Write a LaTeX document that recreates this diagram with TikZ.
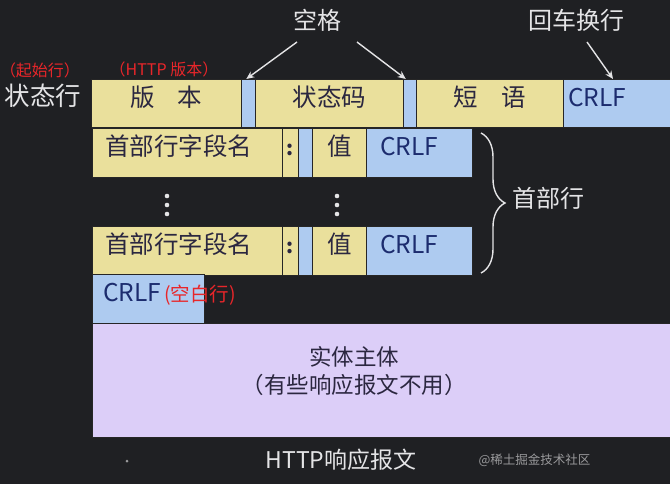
\documentclass[tikz,border=0pt]{standalone}
\usepackage{fontspec}
\setmainfont{Noto Sans CJK SC}
\usetikzlibrary{arrows.meta,decorations.pathreplacing}

\definecolor{bgdark}{HTML}{1F2023}
\definecolor{fieldyellow}{HTML}{EAE09C}
\definecolor{gapblue}{HTML}{AECBF0}
\definecolor{bodypurple}{HTML}{DCCEF8}
\definecolor{inktext}{HTML}{2B2740}
\definecolor{crlfblue}{HTML}{1C2C6E}
\definecolor{notered}{HTML}{E8262A}
\definecolor{labelwhite}{HTML}{E4E4E6}
\definecolor{markgray}{HTML}{9A9A9C}

\tikzset{
	cell/.style={draw=black!85, line width=0.6pt, anchor=north west, inner sep=0pt,
		minimum height=48, text height=21pt, text depth=15pt,
		text=inktext, font=\fontsize{24.5}{28}\selectfont},
	field/.style={cell, fill=fieldyellow},
	gap/.style={cell, fill=gapblue},
	crlf/.style={cell, fill=gapblue, text=crlfblue, align=left, inner xsep=#1},
	labeltext/.style={text=labelwhite, font=\fontsize{24}{28}\selectfont},
	redtext/.style={text=notered, font=\fontsize{16}{18}\selectfont},
	pointer/.style={labelwhite, line width=1.4pt, -{Stealth[length=8pt,width=7pt]}},
}

\begin{document}
\begin{tikzpicture}[x=1pt,y=-1pt]
	% Page size and background
	\useasboundingbox (0,0) rectangle (670,484);
	\fill[bgdark] (0,0) rectangle (670,484);
	% Status line
	\node[field, minimum width=150] (ver) at (91,79) {版\hspace{0.95em}本};
	\node[gap, minimum width=14] (sp1) at (241,79) {};
	\node[field, minimum width=148] (code) at (255,79) {状态码};
	\node[gap, minimum width=13] (sp2) at (403,79) {};
	\node[field, minimum width=147] (phrase) at (416,79) {短\hspace{0.95em}语};
	\node[crlf=5pt, minimum width=120, text width=110] (crlf1) at (563,79) {CRLF};
	% Header lines
	\foreach \r/\y in {1/128, 2/226} {
		\node[field, minimum width=190, minimum height=49, align=left, inner xsep=13pt, text width=164] (name\r) at (92,\y) {首部行字段名};
		\node[field, minimum width=16, minimum height=49, font=\bfseries\fontsize{20}{24}\selectfont] (colon\r) at (282,\y) {:};
		\node[gap, minimum width=14, minimum height=49] (sp\r h) at (298,\y) {};
		\node[field, minimum width=54, minimum height=49] (val\r) at (312,\y) {值};
		\node[crlf=14pt, minimum width=106, text width=78, minimum height=49] (crlf\r h) at (366,\y) {CRLF};
	}
	% Vertical dots between the header lines
	\foreach \x in {167,337}
		\foreach \y in {196,205,214}
			\fill[labelwhite] (\x,\y) circle (2.3);
	% Empty line and entity body
	\node[crlf=11pt, minimum width=112, text width=90, minimum height=49] (crlf4) at (92,274) {CRLF};
	\node[text=notered, font=\fontsize{19.5}{22}\selectfont, anchor=west, inner sep=0pt] (blank) at (164,295) {(空白行)};
	\node[cell, fill=bodypurple, minimum width=585, minimum height=114, align=center,
		text height=48pt, text depth=22pt, font=\fontsize{22.5}{28}\selectfont] (body) at (92,323)
		{实体主体\hspace*{61pt}\\（有些响应报文不用）\hspace*{61pt}};
	% Labels
	\node[labeltext, font=\fontsize{25.5}{28}\selectfont] (state) at (43,96) {状态行};
	\node[redtext] (start) at (40,70) {（起始行）};
	\node[redtext] (hver) at (164,69) {（HTTP 版本）};
	\node[labeltext] (kongge) at (317,20) {空格};
	\node[labeltext] (huiche) at (576,20) {回车换行};
	\coordinate (kgL) at (297,42);
	\coordinate (kgR) at (357,42);
	\coordinate (hcS) at (587,42);
	\draw[pointer] (kgL) -- ([xshift=-2pt]sp1.north);
	\draw[pointer] (kgR) -- ([xshift=-4pt]sp2.north);
	\draw[pointer] (hcS) -- ([xshift=50pt]crlf1.north west);
	% Brace for the header lines
	\coordinate (brT) at (481,133);
	\coordinate (brB) at (481,273);
	\draw[labelwhite, line width=1.4pt, decorate, decoration={brace, amplitude=24pt}] (brT) -- (brB);
	\node[labeltext, anchor=west] (header) at (509,198) {首部行};
	% Caption
	\node[labeltext, font=\fontsize{23}{27}\selectfont] (caption) at (341,460) {HTTP响应报文};
	\node[text=markgray, font=\fontsize{12.5}{15}\selectfont, anchor=west] (mark) at (475,460) {@稀土掘金技术社区};
	\fill[markgray] (127,461) circle (1.5);
\end{tikzpicture}
\end{document}
